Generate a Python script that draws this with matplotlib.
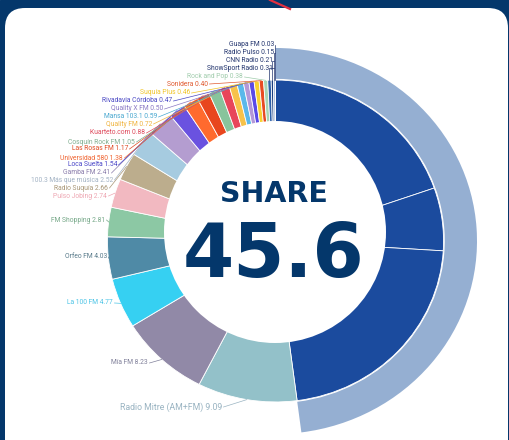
import numpy as np
import matplotlib
matplotlib.use("Agg")
import matplotlib.pyplot as plt
from matplotlib.patches import FancyBboxPatch, Circle

# --- data -------------------------------------------------------------
share_value = "45.6"
# the big share is drawn as three blue parts in the inner ring
share_parts = [18.7, 6.0, 20.9]
share_total = [45.6]

stations = [
    "Radio Mitre (AM+FM)", "Mía FM", "La 100 FM", "Orfeo FM", "FM Shopping",
    "Pulso Jobing", "Radio Suquía", "100.3 Más que música", "Gamba FM",
    "Loca Suelta", "Universidad 580", "Las Rosas FM", "Cosquín Rock FM",
    "Kuarteto.com", "Quality FM", "Mansa 103.1", "Quality X FM",
    "Rivadavia Córdoba", "Suquía Plus", "Sonidera", "Rock and Pop",
    "ShowSport Radio", "CNN Radio", "Radio Pulso", "Guapa FM",
]
shares = [
    9.09, 8.23, 4.77, 4.03, 2.81, 2.74, 2.66, 2.52, 2.41, 1.54, 1.38, 1.17,
    1.05, 0.88, 0.72, 0.59, 0.50, 0.47, 0.46, 0.40, 0.38, 0.31, 0.21, 0.15,
    0.03,
]

# --- style ------------------------------------------------------------
navy = "#04376b"
part_color = "#1b4b9e"
outer_color = "#95afd2"
slice_colors = [
    "#93c1c9", "#9189a7", "#36d0f2", "#4f8aa6", "#8cc8a4", "#f2b9c1",
    "#bcad8d", "#a6cbe0", "#b49dd0", "#6a52e0", "#ff6a2e", "#e8461e",
    "#88c49c", "#e8465a", "#f7c24a", "#5ab8ea", "#b498d8", "#5a4ae6",
    "#f8d030", "#e84a22", "#a8d4b4", "#2d5fa8", "#1a3f80", "#6a8cc0",
    "#1b4b9e",
]
label_colors = [
    "#9ab4c2", "#80809a", "#4cc4e6", "#587a8a", "#76a888", "#eea6b2",
    "#a89676", "#a2b2c4", "#8a7cab", "#4a46c8", "#f0622e", "#e04a22",
    "#80ae90", "#de4a5c", "#f0b440", "#4aa8d0", "#8a78c4", "#4a48c4",
    "#f0c428", "#e05a30", "#a0ccac", "#23356e", "#23356e", "#23356e",
    "#23356e",
]
# label anchor (right end of text, centre y) in pixels
label_x = [222, 148, 113, 107, 105, 107, 108, 113, 110, 117, 123, 128, 135,
           145, 152, 157, 163, 172, 190, 208, 243, 273, 273, 274, 274]
label_y = [407, 363, 303, 257, 220, 196, 188, 180, 173, 165, 158, 149, 142,
           133, 124, 117, 109, 101, 93, 84, 77, 68, 61, 53, 45]

W, H = 510, 440
fig = plt.figure(figsize=(W / 100, H / 100), dpi=100)

# background + card
bg = fig.add_axes([0, 0, 1, 1], zorder=0)
bg.set_xlim(0, W)
bg.set_ylim(H, 0)
bg.axis("off")
bg.add_patch(plt.Rectangle((0, 0), W, H, color=navy))
bg.plot([270, 290], [0, 9], color="#e03040", lw=1.6)
bg.add_patch(FancyBboxPatch((5, 8), 503, 470, boxstyle="round,pad=0,rounding_size=20",
                            fc="white", ec="none"))

# pie, slightly wider than tall as in the reference
cx, cy, rx, ry = 275.5, 241, 201.5, 193
pax = fig.add_axes([(cx - rx) / W, (H - cy - ry) / H, 2 * rx / W, 2 * ry / H], zorder=1)
total = sum(share_parts) + sum(shares)
rest = total - share_total[0]
pax.pie(share_total + [rest], radius=1.0, startangle=90, counterclock=False,
        colors=[outer_color, "none"],
        wedgeprops=dict(width=0.16, edgecolor="none"))
inner_r = 0.834
pax.pie(share_parts + shares, radius=inner_r, startangle=90, counterclock=False,
        colors=[part_color] * 3 + slice_colors,
        wedgeprops=dict(width=0.4, edgecolor="white", linewidth=0.6))
pax.set_aspect("auto")
pax.set_xlim(-1, 1)
pax.set_ylim(-1, 1)
pax.axis("off")

# overlay: hole, centre text, labels
ov = fig.add_axes([0, 0, 1, 1], zorder=2)
ov.set_xlim(0, W)
ov.set_ylim(H, 0)
ov.axis("off")
ov.patch.set_alpha(0)
ov.add_patch(Circle((275, 232), 111, fc="white", ec="none"))
ov.text(274, 202, "SHARE", ha="center", va="baseline", fontsize=20.5,
        fontweight="bold", color=navy, family="DejaVu Sans")
ov.text(274, 277, share_value, ha="center", va="baseline", fontsize=53,
        fontweight="bold", color=navy, family="DejaVu Sans")

cum = np.cumsum([0] + share_parts + shares)
start = sum(share_parts)
for i, (name, val) in enumerate(zip(stations, shares)):
    mid = (cum[3 + i] + val / 2) / total * 2 * np.pi
    px = cx + rx * inner_r * np.sin(mid)
    py = cy - ry * inner_r * np.cos(mid)
    fs = 6.3 if i == 0 else 4.9
    ov.text(label_x[i], label_y[i], f"{name} {val:.2f}", ha="right", va="center",
            fontsize=fs, color=label_colors[i], family=["Roboto", "DejaVu Sans"])
    x0 = label_x[i] + 1.5
    if i >= len(shares) - 4:
        xs, ys = [x0, px, px], [label_y[i], label_y[i], py]
    else:
        xs, ys = [x0, px], [label_y[i], py]
    ov.plot(xs, ys, color=label_colors[i], lw=0.5)

fig.savefig("out.png", dpi=100)
